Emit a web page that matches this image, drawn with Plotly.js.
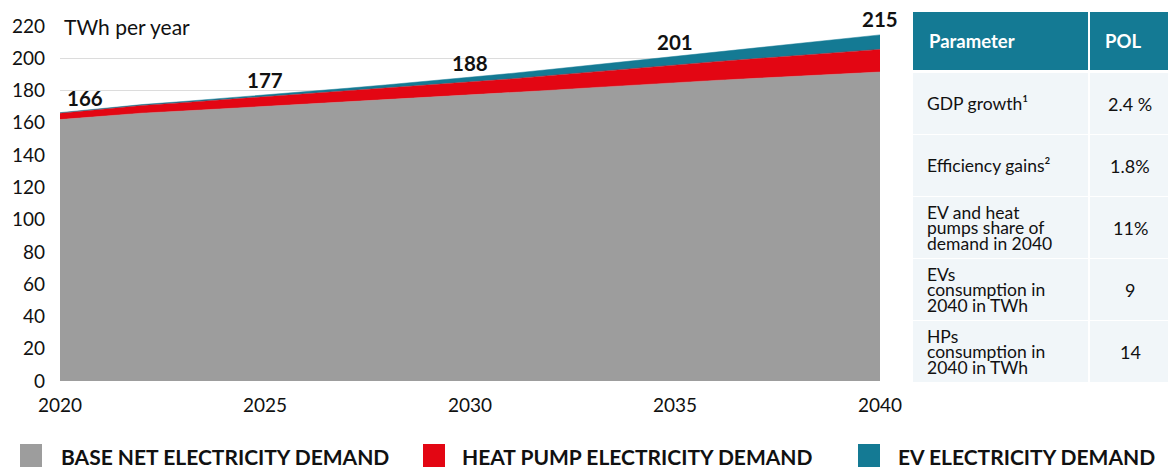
<!DOCTYPE html>
<html>
<head>
<meta charset="utf-8">
<script src="https://cdn.plot.ly/plotly-3.0.1.min.js"></script>
<style>html,body{margin:0;padding:0;background:#fff;}#chart{width:1170px;height:470px;}</style>
</head>
<body>
<div id="chart"></div>
<script>
// ---- data ----
const years = [2020,2021,2022,2023,2024,2025,2026,2027,2028,2029,2030,2031,2032,2033,2034,2035,2036,2037,2038,2039,2040];
const baseDemand = [162,164,166,167.3,168.7,170,171.4,172.8,174.2,175.6,177,178.6,180.2,181.8,183.4,185,186.3,187.6,188.9,190.2,191.5];
const heatPumpDemand = [4,4.4,4.8,5.2,5.6,6,6.4,6.8,7.2,7.6,8,8.6,9.2,9.8,10.4,11,11.6,12.2,12.8,13.4,14];
const evDemand = [0.3,0.4,0.5,0.7,0.9,1,1.4,1.8,2.2,2.6,3,3.4,3.8,4.2,4.6,5,5.8,6.6,7.4,8.2,9];
const labelYears = [2020,2025,2030,2035,2040];
const totalLabels = [166,177,188,201,215];
const seriesNames = ["BASE NET ELECTRICITY DEMAND","HEAT PUMP ELECTRICITY DEMAND","EV ELECTRICITY DEMAND"];
const seriesColors = ["#9d9d9d","#e30613","#147a94"];
const tableHeader = ["Parameter","POL"];
const tableParams = [["GDP growth¹"],["Efficiency gains²"],["EV and heat","pumps share of","demand in 2040"],["EVs","consumption in","2040 in TWh"],["HPs","consumption in","2040 in TWh"]];
const tableValues = ["2.4 %","1.8%","11%","9","14"];
const unitLabel = "TWh per year";

// ---- geometry helpers (pixels -> paper) ----
const W=1170,H=470,L=60,R=290,T=26,B=89;
const PW=W-L-R, PH=H-T-B;
const px = x => (x-L)/PW;
const py = y => (H-B-y)/PH;
const FONT = "Lato, 'Open Sans', sans-serif";

const series=[baseDemand,heatPumpDemand,evDemand];
const traces = series.map((s,i)=>({
  x: years, y: s, name: seriesNames[i], type:'scatter', mode:'lines',
  stackgroup:'one', line:{width:0.5,color:seriesColors[i]}, fillcolor:seriesColors[i],
  hoverinfo:'skip', showlegend:false
}));

const shapes=[], annotations=[];
// totals labels
labelYears.forEach((yr,i)=>{
  annotations.push({x:yr,y:totalLabels[i],xref:'x',yref:'y',text:'<b>'+totalLabels[i]+'</b>',showarrow:false,
    yshift:15, xshift: i===0?25:0, font:{family:FONT,size:20.5,color:'#111'}});
});
// unit label
annotations.push({x:px(59),y:py(26),xref:'paper',yref:'paper',xanchor:'left',yanchor:'middle',text:unitLabel,
  showarrow:false,bgcolor:'#fff',borderpad:4,font:{family:FONT,size:21,color:'#111'}});

// table
const tL=913,tM=1089,tR=1168;
const headTop=12, headBot=70;
shapes.push({type:'rect',xref:'paper',yref:'paper',x0:px(tL),x1:px(tM-1),y0:py(headBot),y1:py(headTop),fillcolor:'#147a94',line:{width:0},layer:'above'});
shapes.push({type:'rect',xref:'paper',yref:'paper',x0:px(tM+1),x1:px(tR),y0:py(headBot),y1:py(headTop),fillcolor:'#147a94',line:{width:0},layer:'above'});
annotations.push({x:px(927),y:py(41),xref:'paper',yref:'paper',xanchor:'left',yanchor:'middle',showarrow:false,
  text:'<b>'+tableHeader[0]+'</b>',font:{family:FONT,size:18.5,color:'#fff'}});
annotations.push({x:px(1103),y:py(41),xref:'paper',yref:'paper',xanchor:'left',yanchor:'middle',showarrow:false,
  text:'<b>'+tableHeader[1]+'</b>',font:{family:FONT,size:18.5,color:'#fff'}});
const rowTops=[73,135,197,259,321], rowH=61;
rowTops.forEach((top,i)=>{
  shapes.push({type:'rect',xref:'paper',yref:'paper',x0:px(tL),x1:px(tM-1),y0:py(top+rowH),y1:py(top),fillcolor:'#f1f6f9',line:{width:0}});
  shapes.push({type:'rect',xref:'paper',yref:'paper',x0:px(tM+1),x1:px(tR),y0:py(top+rowH),y1:py(top),fillcolor:'#f1f6f9',line:{width:0}});
  const lines=tableParams[i], c=top+rowH/2, lh=15.5;
  lines.forEach((ln,j)=>{
    const yc=c+(j-(lines.length-1)/2)*lh;
    annotations.push({x:px(925),y:py(yc),xref:'paper',yref:'paper',xanchor:'left',yanchor:'middle',showarrow:false,
      text:ln,font:{family:FONT,size:17.5,color:'#111'}});
  });
  annotations.push({x:px(1130),y:py(c),xref:'paper',yref:'paper',xanchor:'center',yanchor:'middle',showarrow:false,
    text:tableValues[i],font:{family:FONT,size:18,color:'#111'}});
});

// legend
const legSq=[20,423,858], legTx=[59,460,896];
seriesNames.forEach((n,i)=>{
  shapes.push({type:'rect',xref:'paper',yref:'paper',x0:px(legSq[i]),x1:px(legSq[i]+22),y0:py(467),y1:py(444),fillcolor:seriesColors[i],line:{width:0}});
  annotations.push({x:px(legTx[i]),y:py(456),xref:'paper',yref:'paper',xanchor:'left',yanchor:'middle',showarrow:false,
    text:'<b>'+n+'</b>',font:{family:FONT,size:21,color:'#111'}});
});

const layout={
  width:W,height:H,margin:{l:L,r:R,t:T,b:B},paper_bgcolor:'#fff',plot_bgcolor:'#fff',showlegend:false,
  font:{family:FONT,color:'#111'},
  xaxis:{range:[2020,2040],tickvals:labelYears,ticktext:labelYears.map(String),showgrid:false,zeroline:false,
    showline:false,ticks:'',tickfont:{family:FONT,size:19,color:'#111'},ticklabelstandoff:11},
  yaxis:{range:[0,220],dtick:20,showgrid:true,gridcolor:'#dcdcdc',gridwidth:1.5,zeroline:false,showline:false,ticks:'',
    tickfont:{family:FONT,size:19,color:'#111'},ticklabelstandoff:14},
  shapes:shapes,annotations:annotations
};
Plotly.newPlot('chart',traces,layout,{staticPlot:true,displayModeBar:false});
</script>
</body>
</html>
